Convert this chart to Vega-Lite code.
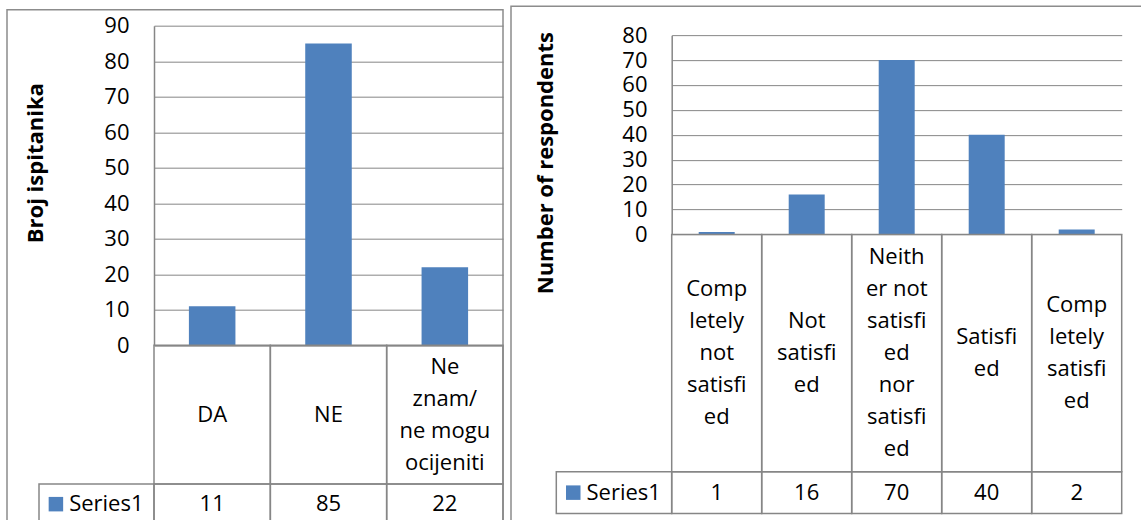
{
  "$schema": "https://vega.github.io/schema/vega-lite/v6.json",
  "background": "white",
  "padding": {"left": 6, "top": 5, "right": 0, "bottom": 0},
  "spacing": 5,
  "center": true,
  "datasets": {
    "left": [
      {"category": "DA", "label": "DA", "count": 11},
      {"category": "NE", "label": "NE", "count": 85},
      {"category": "Ne znam/ne mogu ocijeniti", "label": "Ne\nznam/\nne mogu\nocijeniti", "count": 22}
    ],
    "right": [
      {"category": "Completely not satisfied", "label": "Comp\nletely\nnot\nsatisfi\ned", "count": 1},
      {"category": "Not satisfied", "label": "Not\nsatisfi\ned", "count": 16},
      {"category": "Neither not satisfied nor satisfied", "label": "Neith\ner not\nsatisfi\ned\nnor\nsatisfi\ned", "count": 70},
      {"category": "Satisfied", "label": "Satisfi\ned", "count": 40},
      {"category": "Completely satisfied", "label": "Comp\nletely\nsatisfi\ned", "count": 2}
    ],
    "series": [{"series": "Series1"}]
  },
  "hconcat": [
    {
      "width": 496,
      "height": 516,
      "resolve": {"scale": {"x": "independent", "y": "independent"}},
      "layer": [
        {
          "data": {"name": "left"},
          "mark": {"type": "bar", "color": "#4F81BD", "width": {"band": 0.4}},
          "encoding": {
            "x": {"field": "category", "type": "nominal", "sort": null, "axis": null,
                  "scale": {"type": "band", "range": [147, 496], "paddingInner": 0, "paddingOuter": 0}},
            "y": {"field": "count", "type": "quantitative",
                  "scale": {"domain": [0, 90], "range": [335.7, 16], "nice": false, "zero": false},
                  "axis": {"values": [0, 10, 20, 30, 40, 50, 60, 70, 80, 90], "grid": true, "gridColor": "#868686", "gridWidth": 1,
                           "domain": true, "domainColor": "#868686", "domainWidth": 1.5, "ticks": false, "labelPadding": 25,
                           "labelFont": "Open Sans", "labelFontSize": 22, "labelColor": "black", "labelOverlap": false,
                           "offset": -147, "title": "Broj ispitanika", "titleFont": "Open Sans", "titleFontSize": 22,
                           "titleFontWeight": "bold", "titleColor": "black", "titleX": -119, "titleY": 153,
                           "titleAngle": -90, "titleBaseline": "middle", "titleAlign": "center"}}
          }
        },
        {
          "data": {"name": "left"},
          "mark": {"type": "rect", "fillOpacity": 0, "stroke": "#868686", "strokeWidth": 1.5},
          "encoding": {
            "x": {"field": "category", "type": "nominal", "sort": null, "axis": null,
                  "scale": {"type": "band", "range": [147, 496], "paddingInner": 0, "paddingOuter": 0}},
            "y": {"datum": 0, "scale": {"domain": [0, 90], "range": [335.7, 16], "nice": false, "zero": false}, "axis": null},
            "y2": {"datum": -39.0}
          }
        },
        {
          "data": {"name": "left"},
          "mark": {"type": "rect", "fillOpacity": 0, "stroke": "#868686", "strokeWidth": 1.5},
          "encoding": {
            "x": {"field": "category", "type": "nominal", "sort": null, "axis": null,
                  "scale": {"type": "band", "range": [147, 496], "paddingInner": 0, "paddingOuter": 0}},
            "y": {"datum": -39.0, "scale": {"domain": [0, 90], "range": [335.7, 16], "nice": false, "zero": false}, "axis": null},
            "y2": {"datum": -50.8}
          }
        },
        {
          "data": {"name": "left"},
          "transform": [{"calculate": "length(split(datum.label, '\\n'))", "as": "lines"}],
          "mark": {"type": "text", "font": "Open Sans", "fontSize": 22, "lineBreak": "\n", "lineHeight": 32,
                   "baseline": "middle", "align": "center", "color": "black"},
          "encoding": {
            "x": {"field": "category", "type": "nominal", "sort": null, "axis": null, "bandPosition": 0.5,
                  "scale": {"type": "band", "range": [147, 496], "paddingInner": 0, "paddingOuter": 0}},
            "y": {"field": "lines", "type": "quantitative", "axis": null,
                  "scale": {"domain": [1, 7], "range": [405, 309], "nice": false, "zero": false}},
            "text": {"field": "label"}
          }
        },
        {
          "data": {"name": "left"},
          "mark": {"type": "text", "font": "Open Sans", "fontSize": 22, "baseline": "middle", "align": "center", "color": "black"},
          "encoding": {
            "x": {"field": "category", "type": "nominal", "sort": null, "axis": null, "bandPosition": 0.5,
                  "scale": {"type": "band", "range": [147, 496], "paddingInner": 0, "paddingOuter": 0}},
            "y": {"datum": -44.7, "scale": {"domain": [0, 90], "range": [335.7, 16], "nice": false, "zero": false}, "axis": null},
            "text": {"field": "count"}
          }
        },
        {
          "data": {"name": "series"},
          "mark": {"type": "rect", "fillOpacity": 0, "stroke": "#868686", "strokeWidth": 1.5},
          "encoding": {
            "x": {"field": "series", "type": "nominal", "axis": null,
                  "scale": {"type": "band", "range": [32, 147], "paddingInner": 0, "paddingOuter": 0}},
            "y": {"datum": -39.0, "scale": {"domain": [0, 90], "range": [335.7, 16], "nice": false, "zero": false}, "axis": null},
            "y2": {"datum": -50.8}
          }
        },
        {
          "data": {"name": "series"},
          "mark": {"type": "point", "shape": "square", "filled": true, "size": 210, "color": "#4F81BD", "opacity": 1},
          "encoding": {
            "x": {"field": "series", "type": "nominal", "axis": null, "bandPosition": 0.147,
                  "scale": {"type": "band", "range": [32, 147], "paddingInner": 0, "paddingOuter": 0}},
            "y": {"datum": -44.7, "scale": {"domain": [0, 90], "range": [335.7, 16], "nice": false, "zero": false}, "axis": null}
          }
        },
        {
          "data": {"name": "series"},
          "mark": {"type": "text", "font": "Open Sans", "fontSize": 22, "baseline": "middle", "align": "left", "color": "black"},
          "encoding": {
            "x": {"field": "series", "type": "nominal", "axis": null, "bandPosition": 0.262,
                  "scale": {"type": "band", "range": [32, 147], "paddingInner": 0, "paddingOuter": 0}},
            "y": {"datum": -44.7, "scale": {"domain": [0, 90], "range": [335.7, 16], "nice": false, "zero": false}, "axis": null},
            "text": {"field": "series"}
          }
        }
      ]
    },
    {
      "width": 640,
      "height": 524,
      "resolve": {"scale": {"x": "independent", "y": "independent"}},
      "layer": [
        {
          "data": {"name": "right"},
          "mark": {"type": "bar", "color": "#4F81BD", "width": {"band": 0.4}},
          "encoding": {
            "x": {"field": "category", "type": "nominal", "sort": null, "axis": null,
                  "scale": {"type": "band", "range": [160.7, 610.7], "paddingInner": 0, "paddingOuter": 0}},
            "y": {"field": "count", "type": "quantitative",
                  "scale": {"domain": [0, 80], "range": [228.3, 29], "nice": false, "zero": false},
                  "axis": {"values": [0, 10, 20, 30, 40, 50, 60, 70, 80], "grid": true, "gridColor": "#868686", "gridWidth": 1,
                           "domain": true, "domainColor": "#868686", "domainWidth": 1.5, "ticks": false, "labelPadding": 24.7,
                           "labelFont": "Open Sans", "labelFontSize": 22, "labelColor": "black", "labelOverlap": false,
                           "offset": -160.7, "title": "Number of respondents", "titleFont": "Open Sans", "titleFontSize": 22,
                           "titleFontWeight": "bold", "titleColor": "black", "titleX": -126, "titleY": 156.5,
                           "titleAngle": -90, "titleBaseline": "middle", "titleAlign": "center"}}
          }
        },
        {
          "data": {"name": "right"},
          "mark": {"type": "rect", "fillOpacity": 0, "stroke": "#868686", "strokeWidth": 1.5},
          "encoding": {
            "x": {"field": "category", "type": "nominal", "sort": null, "axis": null,
                  "scale": {"type": "band", "range": [160.7, 610.7], "paddingInner": 0, "paddingOuter": 0}},
            "y": {"datum": 0, "scale": {"domain": [0, 80], "range": [228.3, 29], "nice": false, "zero": false}, "axis": null},
            "y2": {"datum": -95.3}
          }
        },
        {
          "data": {"name": "right"},
          "mark": {"type": "rect", "fillOpacity": 0, "stroke": "#868686", "strokeWidth": 1.5},
          "encoding": {
            "x": {"field": "category", "type": "nominal", "sort": null, "axis": null,
                  "scale": {"type": "band", "range": [160.7, 610.7], "paddingInner": 0, "paddingOuter": 0}},
            "y": {"datum": -95.3, "scale": {"domain": [0, 80], "range": [228.3, 29], "nice": false, "zero": false}, "axis": null},
            "y2": {"datum": -112.0}
          }
        },
        {
          "data": {"name": "right"},
          "transform": [{"calculate": "length(split(datum.label, '\\n'))", "as": "lines"}],
          "mark": {"type": "text", "font": "Open Sans", "fontSize": 22, "lineBreak": "\n", "lineHeight": 32,
                   "baseline": "middle", "align": "center", "color": "black"},
          "encoding": {
            "x": {"field": "category", "type": "nominal", "sort": null, "axis": null, "bandPosition": 0.5,
                  "scale": {"type": "band", "range": [160.7, 610.7], "paddingInner": 0, "paddingOuter": 0}},
            "y": {"field": "lines", "type": "quantitative", "axis": null,
                  "scale": {"domain": [1, 7], "range": [346.5, 250.5], "nice": false, "zero": false}},
            "text": {"field": "label"}
          }
        },
        {
          "data": {"name": "right"},
          "mark": {"type": "text", "font": "Open Sans", "fontSize": 22, "baseline": "middle", "align": "center", "color": "black"},
          "encoding": {
            "x": {"field": "category", "type": "nominal", "sort": null, "axis": null, "bandPosition": 0.5,
                  "scale": {"type": "band", "range": [160.7, 610.7], "paddingInner": 0, "paddingOuter": 0}},
            "y": {"datum": -103.65, "scale": {"domain": [0, 80], "range": [228.3, 29], "nice": false, "zero": false}, "axis": null},
            "text": {"field": "count"}
          }
        },
        {
          "data": {"name": "series"},
          "mark": {"type": "rect", "fillOpacity": 0, "stroke": "#868686", "strokeWidth": 1.5},
          "encoding": {
            "x": {"field": "series", "type": "nominal", "axis": null,
                  "scale": {"type": "band", "range": [45.3, 160.7], "paddingInner": 0, "paddingOuter": 0}},
            "y": {"datum": -95.3, "scale": {"domain": [0, 80], "range": [228.3, 29], "nice": false, "zero": false}, "axis": null},
            "y2": {"datum": -112.0}
          }
        },
        {
          "data": {"name": "series"},
          "mark": {"type": "point", "shape": "square", "filled": true, "size": 210, "color": "#4F81BD", "opacity": 1},
          "encoding": {
            "x": {"field": "series", "type": "nominal", "axis": null, "bandPosition": 0.147,
                  "scale": {"type": "band", "range": [45.3, 160.7], "paddingInner": 0, "paddingOuter": 0}},
            "y": {"datum": -103.65, "scale": {"domain": [0, 80], "range": [228.3, 29], "nice": false, "zero": false}, "axis": null}
          }
        },
        {
          "data": {"name": "series"},
          "mark": {"type": "text", "font": "Open Sans", "fontSize": 22, "baseline": "middle", "align": "left", "color": "black"},
          "encoding": {
            "x": {"field": "series", "type": "nominal", "axis": null, "bandPosition": 0.262,
                  "scale": {"type": "band", "range": [45.3, 160.7], "paddingInner": 0, "paddingOuter": 0}},
            "y": {"datum": -103.65, "scale": {"domain": [0, 80], "range": [228.3, 29], "nice": false, "zero": false}, "axis": null},
            "text": {"field": "series"}
          }
        }
      ]
    }
  ],
  "config": {
    "view": {"stroke": "#8c8c8c", "strokeWidth": 1.5},
    "text": {"font": "Open Sans"}
  }
}
